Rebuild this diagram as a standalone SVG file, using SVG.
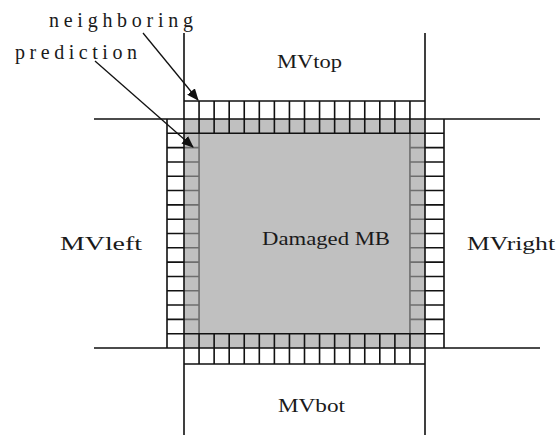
<svg xmlns="http://www.w3.org/2000/svg" width="560" height="437" viewBox="0 0 560 437">
<defs>
<style>
.t{font-family:"Liberation Serif","Times New Roman",serif;fill:#1a1a1a;}
.ln{stroke:#111;stroke-width:1.6;fill:none;}
.gl{stroke:#6e6e6e;stroke-width:1.6;fill:none;}
.arr{stroke:#111;stroke-width:1.3;fill:none;marker-end:url(#ah);}
</style>
<marker id="ah" markerWidth="12" markerHeight="10" refX="11" refY="5" orient="auto" markerUnits="userSpaceOnUse">
<path d="M0,0 L12,5 L0,10 Z" fill="#111"/>
</marker>
</defs>
<rect x="0" y="0" width="560" height="437" fill="#fff"/>
<g id="block">
<rect x="184" y="119" width="241" height="229" fill="#c0c0c0"/>
<rect x="184" y="101" width="241" height="18" fill="#fff"/>
<rect x="184" y="348" width="241" height="16" fill="#fff"/>
<rect x="167" y="119" width="17" height="229" fill="#fff"/>
<rect x="425" y="119" width="19" height="229" fill="#fff"/>
<path class="gl" d="M199.06 133.31V333.69M409.94 133.31V333.69
M184 147.63H199.06M184 161.94H199.06M184 176.25H199.06M184 190.56H199.06M184 204.88H199.06M184 219.19H199.06M184 233.5H199.06M184 247.81H199.06M184 262.13H199.06M184 276.44H199.06M184 290.75H199.06M184 305.06H199.06M184 319.38H199.06
M409.94 147.63H425M409.94 161.94H425M409.94 176.25H425M409.94 190.56H425M409.94 204.88H425M409.94 219.19H425M409.94 233.5H425M409.94 247.81H425M409.94 262.13H425M409.94 276.44H425M409.94 290.75H425M409.94 305.06H425M409.94 319.38H425"/>
<path class="ln" d="M184 33V435M425 33V435M94 119H540M94 348H540
M167 119V348M444 119V348M184 101H425M184 364H425M167 133.31H444M167 333.69H444
M199.06 101V133.31M214.13 101V133.31M229.19 101V133.31M244.25 101V133.31M259.31 101V133.31M274.38 101V133.31M289.44 101V133.31M304.5 101V133.31M319.56 101V133.31M334.63 101V133.31M349.69 101V133.31M364.75 101V133.31M379.81 101V133.31M394.88 101V133.31M409.94 101V133.31
M199.06 333.69V364M214.13 333.69V364M229.19 333.69V364M244.25 333.69V364M259.31 333.69V364M274.38 333.69V364M289.44 333.69V364M304.5 333.69V364M319.56 333.69V364M334.63 333.69V364M349.69 333.69V364M364.75 333.69V364M379.81 333.69V364M394.88 333.69V364M409.94 333.69V364
M167 147.63H184M167 161.94H184M167 176.25H184M167 190.56H184M167 204.88H184M167 219.19H184M167 233.5H184M167 247.81H184M167 262.13H184M167 276.44H184M167 290.75H184M167 305.06H184M167 319.38H184
M425 147.63H444M425 161.94H444M425 176.25H444M425 190.56H444M425 204.88H444M425 219.19H444M425 233.5H444M425 247.81H444M425 262.13H444M425 276.44H444M425 290.75H444M425 305.06H444M425 319.38H444"/>
<text class="t" x="262" y="245" font-size="19" textLength="128" lengthAdjust="spacingAndGlyphs">Damaged MB</text>
</g>
<g id="label-neighboring"><text class="t" x="49" y="27" font-size="20" textLength="144">neighboring</text></g>
<g id="label-prediction"><text class="t" x="15" y="59" font-size="20" textLength="122">prediction</text></g>
<g id="label-mvtop"><text class="t" x="277" y="68" font-size="19" textLength="65" lengthAdjust="spacingAndGlyphs">MVtop</text></g>
<g id="label-mvleft"><text class="t" x="60" y="250" font-size="19" textLength="82" lengthAdjust="spacingAndGlyphs">MVleft</text></g>
<g id="label-mvright"><text class="t" x="467" y="250" font-size="19" textLength="88" lengthAdjust="spacingAndGlyphs">MVright</text></g>
<g id="label-mvbot"><text class="t" x="278" y="412" font-size="19" textLength="67" lengthAdjust="spacingAndGlyphs">MVbot</text></g>
<g id="connectors">
<path class="arr" d="M143 33L198 100"/>
<path class="arr" d="M95 61L193 147"/>
</g>
</svg>
